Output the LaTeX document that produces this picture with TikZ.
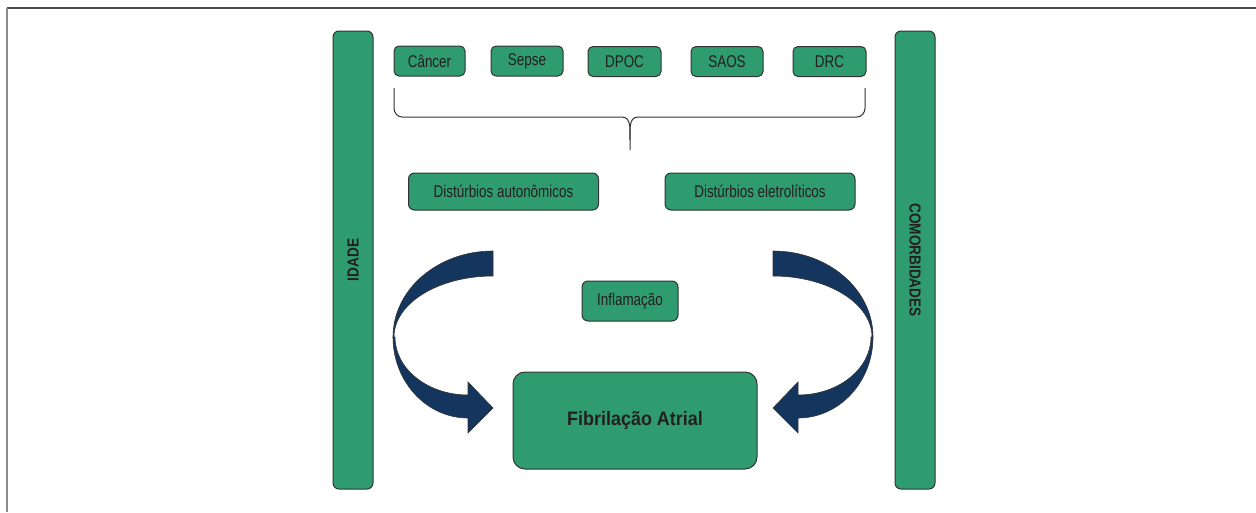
\documentclass[tikz,border=0pt]{standalone}
\usepackage{fontspec}
\setmainfont{Liberation Sans}
\newfontfamily\lblfont{Liberation Sans}[FakeStretch=0.79]
\newfontfamily\titlefont{Liberation Sans}[FakeStretch=0.92]
\newfontfamily\sidefont{Liberation Sans}[FakeStretch=0.85]
\definecolor{fgreen}{HTML}{2E9C6E}
\definecolor{fnavy}{HTML}{14365E}
\definecolor{ftext}{HTML}{231F20}
\definecolor{fedge}{HTML}{333333}
\tikzset{
  gbox/.style={draw=fedge, line width=1pt, fill=fgreen, rounded corners=5pt, text=ftext, inner sep=0pt, font=\lblfont\fontsize{17}{20}\selectfont},
  bar/.style={draw=fedge, line width=1pt, fill=fgreen, rounded corners=6pt, text=ftext, inner sep=0pt, font=\sidefont\bfseries\fontsize{16}{18}\selectfont},
  ribbon/.style={fill=fnavy, draw=fedge, line width=0.6pt},
  bracel/.style={draw=fedge, line width=1pt},
}
\newcommand{\faribbon}{%
  \filldraw[ribbon] (493,251) -- (493,276) .. controls (438.3,276) and (394,303.3) .. (394,337) -- (393,337) .. controls (393,289.5) and (437.8,251) .. (493,251) -- cycle;
  \filldraw[ribbon] (393,337) .. controls (393,381.7) and (426.6,418) .. (468,418) -- (468,433) -- (493,408) -- (468,382) -- (468,395) .. controls (427.7,395) and (395,369) .. (395,337) -- cycle;
}
\begin{document}
\begin{tikzpicture}[x=1pt,y=-1pt]
\useasboundingbox (0,0) rectangle (1256,512);
% frame
\draw[line width=1.5pt, color=black!70] (7,8) -- (1256,8);
\draw[line width=1.5pt, color=black!45] (7,8) -- (7,512);
% side bars
\node[bar, rotate=90, minimum width=458, minimum height=40] (idade) at (353,260) {IDADE};
\node[bar, rotate=-90, minimum width=458, minimum height=40] (comorb) at (915,260) {COMORBIDADES};
% top row
\node[gbox, minimum width=71, minimum height=30] (cancer) at (429.5,61) {Câncer};
\node[gbox, minimum width=72, minimum height=30] (sepse) at (527,61) {Sepse};
\node[gbox, minimum width=73, minimum height=30] (dpoc) at (624.5,61.5) {DPOC};
\node[gbox, minimum width=72, minimum height=30] (saos) at (727,61.5) {SAOS};
\node[gbox, minimum width=73, minimum height=30] (drc) at (829.5,61.5) {DRC};
% brace
\draw[bracel] (394,88) -- (394,108) to[out=-90,in=180] (402,117) -- (622,117) to[out=0,in=90] (630,140) -- (630,150);
\draw[bracel] (630,140) to[out=90,in=180] (638,117) -- (857,117) to[out=0,in=-90] (865,108) -- (865,88);
% middle boxes
\node[gbox, rounded corners=6pt, minimum width=190, minimum height=37] (auto) at (503.5,191.5) {Distúrbios autonômicos};
\node[gbox, rounded corners=6pt, minimum width=190, minimum height=37] (eletro) at (760,191.5) {Distúrbios eletrolíticos};
\node[gbox, rounded corners=6pt, minimum width=96, minimum height=40] (infl) at (630,301) {Inflamação};
\node[gbox, rounded corners=12pt, minimum width=244, minimum height=97, font=\titlefont\bfseries\fontsize{19.5}{22}\selectfont] (fa) at (635,420.5) {Fibrilação Atrial};
% arrows
\faribbon
\begin{scope}[shift={(1266,0)}, xscale=-1]
\faribbon
\end{scope}
\end{tikzpicture}
\end{document}
